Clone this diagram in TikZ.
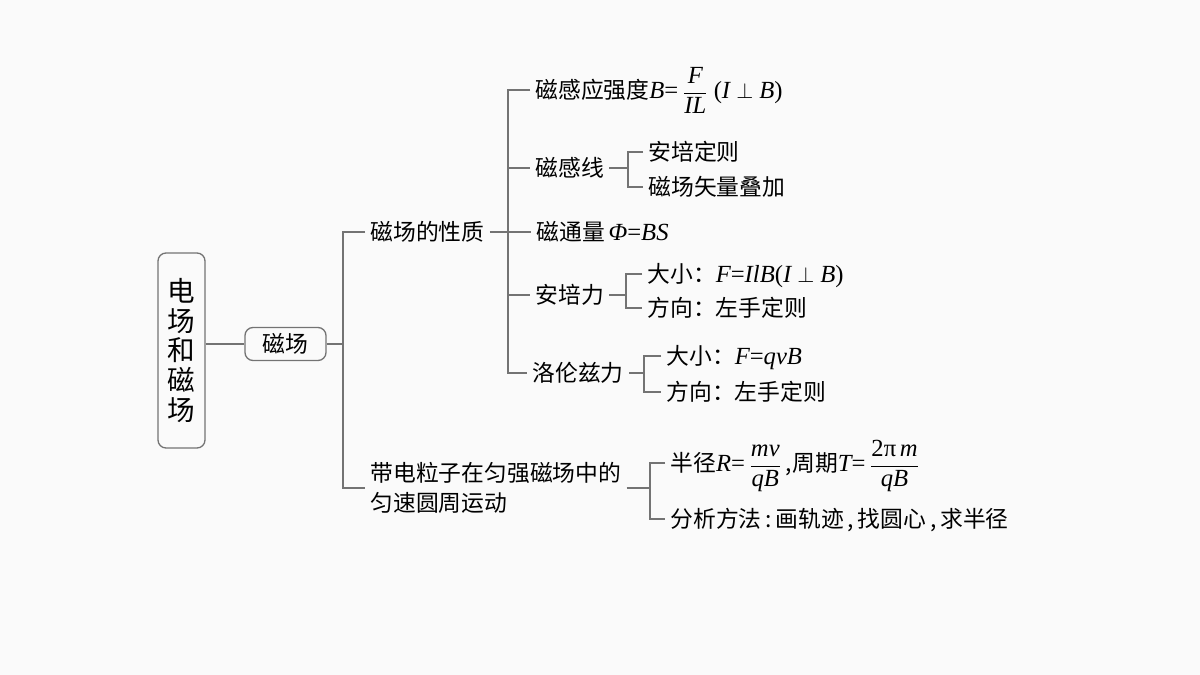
\documentclass[tikz,border=0pt]{standalone}
\usepackage{fontspec}
\usepackage{amsmath}
\newfontfamily\cjk{Noto Sans CJK SC}
\newfontfamily\tim[Scale=1.08]{Liberation Serif}
\newcommand{\mi}[1]{\mbox{\tim\itshape #1}}
\newcommand{\meq}{\mbox{\tim =}}
\newcommand{\mup}[1]{\mbox{\tim #1}}
\definecolor{bg}{RGB}{250,250,250}
\definecolor{linegray}{RGB}{115,115,115}
\begin{document}
\begin{tikzpicture}[x=0.5pt,y=-0.5pt,
  conn/.style={draw=linegray,line width=0.65pt},
  txt/.style={anchor=west,inner xsep=2.5pt,inner ysep=0pt,
    font=\cjk\fontsize{11.4pt}{15pt}\selectfont,text height=10pt,text depth=1.4pt},
  txtml/.style={anchor=west,inner xsep=2.5pt,inner ysep=0pt,align=left,
    font=\cjk\fontsize{11.4pt}{15pt}\selectfont},
  rbox/.style={draw=linegray,line width=0.65pt,rounded corners=4pt,fill=bg,inner sep=0pt}]
\fill[bg] (0,0) rectangle (1200,675);
\useasboundingbox (0,0) rectangle (1200,675);

% level 0 and 1
\node[rbox,minimum width=23.5pt,minimum height=97.5pt,align=center,
  font=\cjk\fontsize{13.8pt}{14.8pt}\selectfont] (root) at (181.5,350.5) {电\\场\\和\\磁\\场};
\node[rbox,minimum width=40.5pt,minimum height=16.5pt,
  font=\cjk\fontsize{11.4pt}{15pt}\selectfont] (mag) at (285.5,344) {磁场};

% level 2
\node[txt] (prop) at (365,232) {磁场的性质};
\node[txtml] (motion) at (365,488) {带电粒子在匀强磁场中的\\匀速圆周运动};

% level 3 (properties)
\node[txt] (b1) at (530,90) {磁感应强度$\mi{B}\meq\,\dfrac{\mi{F}}{\mi{IL}}$\ $\mup{(}\mi{I}\perp\mi{B}\mup{)}$};
\node[txt] (b2) at (530,168) {磁感线};
\node[txt] (b3) at (531,232) {磁通量\,$\mi{Φ}\meq\mi{BS}$};
\node[txt] (b4) at (530,295) {安培力};
\node[txt] (b5) at (527,373) {洛伦兹力};

% level 4
\node[txt] (c1) at (643,152) {安培定则};
\node[txt] (c2) at (643,187) {磁场矢量叠加};
\node[txt] (d1) at (642,274) {大小：$\mi{F}\meq\mi{IlB}\mup{(}\mi{I}\perp\mi{B}\mup{)}$};
\node[txt] (d2) at (642,308) {方向：左手定则};
\node[txt] (e1) at (661,356) {大小：$\mi{F}\meq\mi{qvB}$};
\node[txt] (e2) at (661,392) {方向：左手定则};
\node[txt] (f1) at (665,463) {半径$\mi{R}\meq\,\dfrac{\mi{mv}}{\mi{qB}}$\,,周期$\mi{T}\meq\,\dfrac{\mup{2π}\,\mi{m}}{\mi{qB}}$};
\node[txt] (f2) at (665,519) {分析方法\,:\,画轨迹\,,\,找圆心\,,\,求半径};

% spines
\coordinate (v1) at (343,0);
\coordinate (v2) at (508,0);
\coordinate (vb2) at (628,0);
\coordinate (vb4) at (626,0);
\coordinate (vb5) at (644,0);
\coordinate (vm) at (650,0);

% connectors
\draw[conn] (root.east |- mag.west) -- (mag.west);
\draw[conn] (mag.east) -- (v1 |- mag.east);
\draw[conn] (prop.west) -- (v1 |- prop.west) -- (v1 |- motion.west) -- (motion.west);

\draw[conn] (prop.east) -- (v2 |- prop.east);
\draw[conn] (b1.west) -- (v2 |- b1.west) -- (v2 |- b5.west) -- (b5.west);
\draw[conn] (v2 |- b2.west) -- (b2.west);
\draw[conn] (v2 |- b3.west) -- (b3.west);
\draw[conn] (v2 |- b4.west) -- (b4.west);

\draw[conn] (b2.east) -- (vb2 |- b2.east);
\draw[conn] (c1.west) -- (vb2 |- c1.west) -- (vb2 |- c2.west) -- (c2.west);

\draw[conn] (b4.east) -- (vb4 |- b4.east);
\draw[conn] (d1.west) -- (vb4 |- d1.west) -- (vb4 |- d2.west) -- (d2.west);

\draw[conn] (b5.east) -- (vb5 |- b5.east);
\draw[conn] (e1.west) -- (vb5 |- e1.west) -- (vb5 |- e2.west) -- (e2.west);

\draw[conn] (motion.east) -- (vm |- motion.east);
\draw[conn] (f1.west) -- (vm |- f1.west) -- (vm |- f2.west) -- (f2.west);
\end{tikzpicture}
\end{document}
